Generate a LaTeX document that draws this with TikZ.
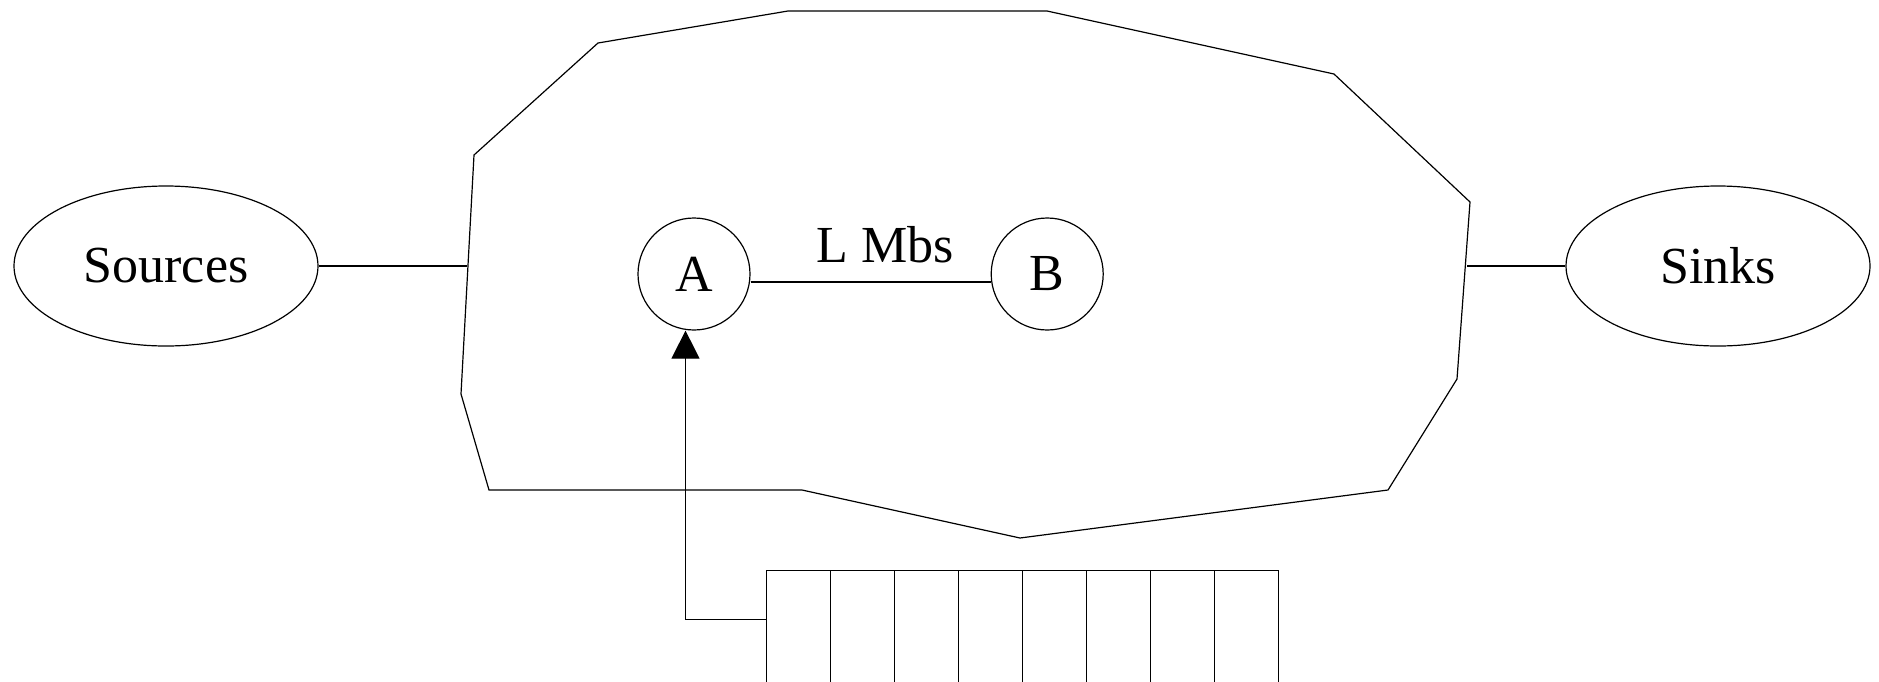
\documentclass[tikz,border=0pt]{standalone}
\usepackage{fontspec}
\setmainfont{Liberation Serif}
\usetikzlibrary{shapes.geometric,arrows.meta}
\usetikzlibrary{positioning}

\begin{document}
\begin{tikzpicture}[x=0.5pt, y=-0.5pt, line width=0.6pt, >={Triangle[length=14pt,width=14pt]},
		font=\fontsize{26}{31}\selectfont,
		host/.style={draw, ellipse, minimum width=152pt, minimum height=80pt, inner sep=0pt},
		router/.style={draw, circle, minimum size=56pt, inner sep=0pt},
		cell/.style={draw, anchor=north west, minimum width=32pt, minimum height=60pt, inner sep=0pt}]
			\clip (0,0) rectangle (1879,681);
			% the network
			\draw (474,155) -- (598,43) -- (788,11) -- (1047,11) -- (1334,74) -- (1470,202)
				-- (1457,379) -- (1388,490) -- (1020,538) -- (802,490) -- (489,490) -- (461,394) -- cycle;
			\coordinate (CloudW) at (467,266);
			\coordinate (CloudE) at (1467,266);
			\node[host] (Src) at (166,266) {Sources};
			\node[host] (Snk) at (1718,266) {Sinks};
			\node[router] (A) at (694,274) {A};
			\node[router, right=120pt of A] (B) {B};
			\draw (Src) -- (CloudW);
			\draw (CloudE) -- (Snk);
			\draw ([yshift=-4pt]A.east) -- node[above=6pt, pos=0.56] {L Mbs} ([yshift=-4pt]B.west);
			% the buffer
			\foreach \i in {1,...,8}
				\node[cell] (Q\i) at ({702+64*\i},570) {};
			\draw[->] ([yshift=5.5pt]Q1.west) -| ([xshift=-4.25pt]A.south);
		\end{tikzpicture}
\end{document}
